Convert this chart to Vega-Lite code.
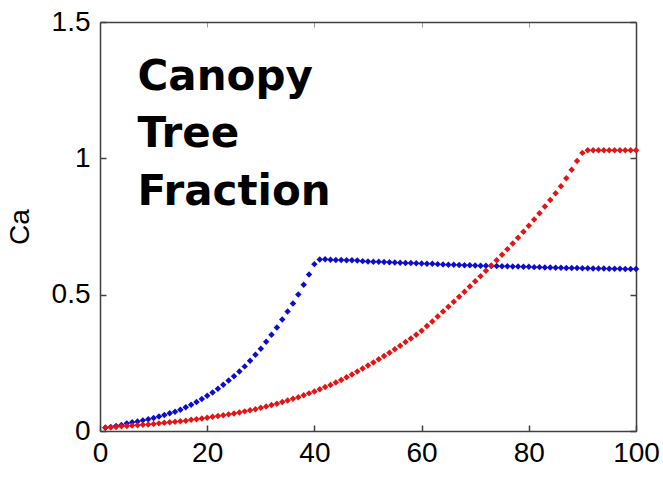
{
  "$schema": "https://vega.github.io/schema/vega-lite/v6.json",
  "width": 536,
  "height": 409,
  "autosize": {"type": "none"},
  "padding": {"left": 100, "top": 22, "right": 27, "bottom": 47},
  "background": "white",
  "config": {
    "view": {"stroke": null},
    "font": "Liberation Sans"
  },
  "datasets": {
    "curves": [
      {"x":1,"s":"b","y":0.012},{"x":2,"s":"b","y":0.015},{"x":3,"s":"b","y":0.018},{"x":4,"s":"b","y":0.022},{"x":5,"s":"b","y":0.028},
      {"x":6,"s":"b","y":0.032},{"x":7,"s":"b","y":0.035},{"x":8,"s":"b","y":0.039},{"x":9,"s":"b","y":0.043},{"x":10,"s":"b","y":0.048},
      {"x":11,"s":"b","y":0.053},{"x":12,"s":"b","y":0.059},{"x":13,"s":"b","y":0.065},{"x":14,"s":"b","y":0.071},{"x":15,"s":"b","y":0.078},
      {"x":16,"s":"b","y":0.087},{"x":17,"s":"b","y":0.096},{"x":18,"s":"b","y":0.106},{"x":19,"s":"b","y":0.117},{"x":20,"s":"b","y":0.129},
      {"x":21,"s":"b","y":0.141},{"x":22,"s":"b","y":0.155},{"x":23,"s":"b","y":0.170},{"x":24,"s":"b","y":0.185},{"x":25,"s":"b","y":0.201},
      {"x":26,"s":"b","y":0.218},{"x":27,"s":"b","y":0.237},{"x":28,"s":"b","y":0.258},{"x":29,"s":"b","y":0.280},{"x":30,"s":"b","y":0.302},
      {"x":31,"s":"b","y":0.327},{"x":32,"s":"b","y":0.353},{"x":33,"s":"b","y":0.380},{"x":34,"s":"b","y":0.409},{"x":35,"s":"b","y":0.438},
      {"x":36,"s":"b","y":0.468},{"x":37,"s":"b","y":0.501},{"x":38,"s":"b","y":0.536},{"x":39,"s":"b","y":0.574},{"x":40,"s":"b","y":0.612},
      {"x":41,"s":"b","y":0.629},{"x":42,"s":"b","y":0.630},{"x":43,"s":"b","y":0.628},{"x":44,"s":"b","y":0.627},{"x":45,"s":"b","y":0.627},
      {"x":46,"s":"b","y":0.626},{"x":47,"s":"b","y":0.626},{"x":48,"s":"b","y":0.625},{"x":49,"s":"b","y":0.623},{"x":50,"s":"b","y":0.622},
      {"x":51,"s":"b","y":0.621},{"x":52,"s":"b","y":0.621},{"x":53,"s":"b","y":0.620},{"x":54,"s":"b","y":0.619},{"x":55,"s":"b","y":0.618},
      {"x":56,"s":"b","y":0.617},{"x":57,"s":"b","y":0.616},{"x":58,"s":"b","y":0.616},{"x":59,"s":"b","y":0.615},{"x":60,"s":"b","y":0.614},
      {"x":61,"s":"b","y":0.613},{"x":62,"s":"b","y":0.613},{"x":63,"s":"b","y":0.612},{"x":64,"s":"b","y":0.611},{"x":65,"s":"b","y":0.610},
      {"x":66,"s":"b","y":0.610},{"x":67,"s":"b","y":0.609},{"x":68,"s":"b","y":0.608},{"x":69,"s":"b","y":0.608},{"x":70,"s":"b","y":0.607},
      {"x":71,"s":"b","y":0.606},{"x":72,"s":"b","y":0.606},{"x":73,"s":"b","y":0.605},{"x":74,"s":"b","y":0.605},{"x":75,"s":"b","y":0.604},
      {"x":76,"s":"b","y":0.604},{"x":77,"s":"b","y":0.603},{"x":78,"s":"b","y":0.603},{"x":79,"s":"b","y":0.602},{"x":80,"s":"b","y":0.602},
      {"x":81,"s":"b","y":0.601},{"x":82,"s":"b","y":0.601},{"x":83,"s":"b","y":0.600},{"x":84,"s":"b","y":0.600},{"x":85,"s":"b","y":0.599},
      {"x":86,"s":"b","y":0.599},{"x":87,"s":"b","y":0.598},{"x":88,"s":"b","y":0.598},{"x":89,"s":"b","y":0.598},{"x":90,"s":"b","y":0.597},
      {"x":91,"s":"b","y":0.597},{"x":92,"s":"b","y":0.596},{"x":93,"s":"b","y":0.596},{"x":94,"s":"b","y":0.596},{"x":95,"s":"b","y":0.595},
      {"x":96,"s":"b","y":0.595},{"x":97,"s":"b","y":0.595},{"x":98,"s":"b","y":0.594},{"x":99,"s":"b","y":0.594},{"x":100,"s":"b","y":0.594},
      {"x":1,"s":"r","y":0.013},{"x":2,"s":"r","y":0.014},{"x":3,"s":"r","y":0.015},{"x":4,"s":"r","y":0.017},{"x":5,"s":"r","y":0.018},
      {"x":6,"s":"r","y":0.020},{"x":7,"s":"r","y":0.021},{"x":8,"s":"r","y":0.023},{"x":9,"s":"r","y":0.024},{"x":10,"s":"r","y":0.026},
      {"x":11,"s":"r","y":0.028},{"x":12,"s":"r","y":0.030},{"x":13,"s":"r","y":0.032},{"x":14,"s":"r","y":0.034},{"x":15,"s":"r","y":0.036},
      {"x":16,"s":"r","y":0.038},{"x":17,"s":"r","y":0.041},{"x":18,"s":"r","y":0.043},{"x":19,"s":"r","y":0.046},{"x":20,"s":"r","y":0.049},
      {"x":21,"s":"r","y":0.052},{"x":22,"s":"r","y":0.055},{"x":23,"s":"r","y":0.058},{"x":24,"s":"r","y":0.061},{"x":25,"s":"r","y":0.064},
      {"x":26,"s":"r","y":0.068},{"x":27,"s":"r","y":0.072},{"x":28,"s":"r","y":0.076},{"x":29,"s":"r","y":0.080},{"x":30,"s":"r","y":0.085},
      {"x":31,"s":"r","y":0.090},{"x":32,"s":"r","y":0.095},{"x":33,"s":"r","y":0.100},{"x":34,"s":"r","y":0.106},{"x":35,"s":"r","y":0.112},
      {"x":36,"s":"r","y":0.118},{"x":37,"s":"r","y":0.124},{"x":38,"s":"r","y":0.131},{"x":39,"s":"r","y":0.138},{"x":40,"s":"r","y":0.145},
      {"x":41,"s":"r","y":0.153},{"x":42,"s":"r","y":0.161},{"x":43,"s":"r","y":0.169},{"x":44,"s":"r","y":0.178},{"x":45,"s":"r","y":0.187},
      {"x":46,"s":"r","y":0.197},{"x":47,"s":"r","y":0.207},{"x":48,"s":"r","y":0.218},{"x":49,"s":"r","y":0.229},{"x":50,"s":"r","y":0.240},
      {"x":51,"s":"r","y":0.251},{"x":52,"s":"r","y":0.263},{"x":53,"s":"r","y":0.275},{"x":54,"s":"r","y":0.287},{"x":55,"s":"r","y":0.300},
      {"x":56,"s":"r","y":0.313},{"x":57,"s":"r","y":0.326},{"x":58,"s":"r","y":0.339},{"x":59,"s":"r","y":0.353},{"x":60,"s":"r","y":0.368},
      {"x":61,"s":"r","y":0.385},{"x":62,"s":"r","y":0.402},{"x":63,"s":"r","y":0.420},{"x":64,"s":"r","y":0.438},{"x":65,"s":"r","y":0.456},
      {"x":66,"s":"r","y":0.474},{"x":67,"s":"r","y":0.492},{"x":68,"s":"r","y":0.511},{"x":69,"s":"r","y":0.530},{"x":70,"s":"r","y":0.549},
      {"x":71,"s":"r","y":0.568},{"x":72,"s":"r","y":0.588},{"x":73,"s":"r","y":0.607},{"x":74,"s":"r","y":0.626},{"x":75,"s":"r","y":0.646},
      {"x":76,"s":"r","y":0.667},{"x":77,"s":"r","y":0.688},{"x":78,"s":"r","y":0.709},{"x":79,"s":"r","y":0.731},{"x":80,"s":"r","y":0.753},
      {"x":81,"s":"r","y":0.776},{"x":82,"s":"r","y":0.799},{"x":83,"s":"r","y":0.823},{"x":84,"s":"r","y":0.847},{"x":85,"s":"r","y":0.872},
      {"x":86,"s":"r","y":0.898},{"x":87,"s":"r","y":0.927},{"x":88,"s":"r","y":0.958},{"x":89,"s":"r","y":0.990},{"x":90,"s":"r","y":1.020},
      {"x":91,"s":"r","y":1.030},{"x":92,"s":"r","y":1.030},{"x":93,"s":"r","y":1.030},{"x":94,"s":"r","y":1.030},{"x":95,"s":"r","y":1.030},
      {"x":96,"s":"r","y":1.030},{"x":97,"s":"r","y":1.030},{"x":98,"s":"r","y":1.030},{"x":99,"s":"r","y":1.030},{"x":100,"s":"r","y":1.030}
    ]
  },
  "layer": [
    {
      "data": {"name": "curves"},
      "mark": {"type": "point", "shape": "diamond", "filled": true, "size": 42, "opacity": 1},
      "encoding": {
        "x": {
          "field": "x", "type": "quantitative",
          "scale": {"domain": [0, 100], "nice": false, "zero": false},
          "axis": {
            "orient": "bottom", "values": [0, 20, 40, 60, 80, 100], "format": "d", "title": null, "grid": false,
            "domainColor": "#404040", "domainWidth": 1.5, "tickColor": "#404040", "tickWidth": 1.5,
            "tickSize": -6, "labelPadding": 14, "labelFontSize": 28, "labelColor": "#000000",
            "labelFont": "Liberation Sans", "labelFlush": false, "labelOverlap": false
          }
        },
        "y": {
          "field": "y", "type": "quantitative",
          "scale": {"domain": [0, 1.5], "nice": false},
          "axis": {
            "orient": "left", "values": [0, 0.5, 1, 1.5], "format": "~g", "title": "Ca", "grid": false,
            "domainColor": "#404040", "domainWidth": 1.5, "tickColor": "#404040", "tickWidth": 1.5,
            "tickSize": -6, "labelPadding": 16, "labelFontSize": 28, "labelColor": "#000000",
            "labelFont": "Liberation Sans", "labelFlush": false, "labelOverlap": false,
            "titleFont": "Liberation Sans", "titleFontSize": 28, "titleFontWeight": "normal",
            "titleColor": "#000000", "titlePadding": 17
          }
        },
        "color": {
          "field": "s", "type": "nominal",
          "scale": {"domain": ["b", "r"], "range": ["#0c0cd0", "#e41414"]},
          "legend": null
        }
      }
    },
    {
      "data": {"name": "curves"},
      "mark": {"type": "point", "opacity": 0},
      "encoding": {
        "x": {
          "field": "x", "type": "quantitative",
          "axis": {
            "orient": "top", "values": [0, 20, 40, 60, 80, 100], "title": null, "labels": false, "grid": false,
            "domainColor": "#404040", "domainWidth": 1.5, "tickColor": "#9a9a9a", "tickWidth": 1,
            "tickSize": -5
          }
        },
        "y": {
          "field": "y", "type": "quantitative",
          "axis": {
            "orient": "right", "values": [0, 0.5, 1, 1.5], "title": null, "labels": false, "grid": false,
            "domainColor": "#404040", "domainWidth": 1.5, "tickColor": "#404040", "tickWidth": 1.5,
            "tickSize": -6
          }
        }
      }
    },
    {
      "data": {"values": [{"label": "Canopy\nTree\nFraction"}]},
      "mark": {
        "type": "text", "align": "left", "baseline": "alphabetic", "lineBreak": "\n",
        "font": "DejaVu Sans", "fontWeight": "bold", "fontSize": 42, "lineHeight": 57.8, "color": "#000000"
      },
      "encoding": {
        "text": {"field": "label"},
        "x": {"datum": 7.0, "type": "quantitative", "axis": null},
        "y": {"datum": 1.252, "type": "quantitative", "axis": null}
      }
    }
  ],
  "resolve": {"axis": {"x": "independent", "y": "independent"}}
}
